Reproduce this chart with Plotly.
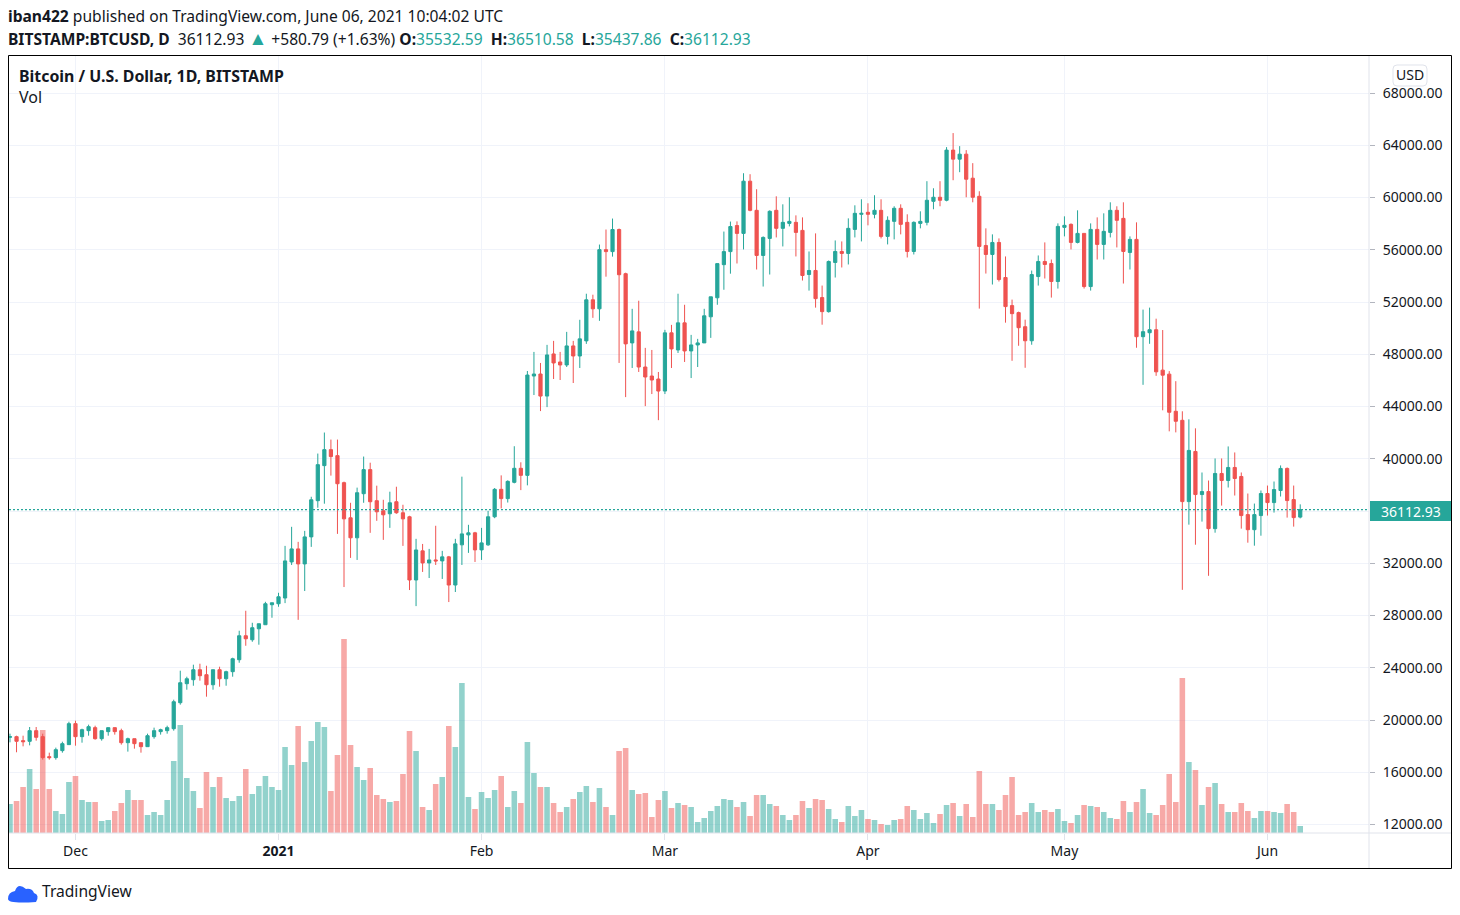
import pandas as pd
import plotly.graph_objects as go

START_DATE = "2020-11-21"

opens = [18675, 18725, 18420, 18370, 19185, 18725, 17195, 17120, 17655, 18115,
         19720, 18725, 19185, 19415, 18570, 19110, 19415, 19185, 18265, 18570,
         18265, 17960, 18725, 19110, 19185, 19335, 21325, 22780, 23085, 23850,
         23470, 22700, 23850, 23160, 23700, 24615, 26450, 26145, 26985, 27295,
         28825, 28900, 29340, 32100, 33100, 31950, 34020, 36790, 39475, 40700,
         40240, 38170, 35480, 33950, 37325, 39170, 36790, 36020, 35790, 36710,
         35865, 35560, 30720, 32950, 32025, 32255, 32180, 32490, 30335, 33410,
         34175, 34330, 33025, 33410, 35560, 37660, 36950, 38195, 39270, 38730,
         46335, 46490, 44800, 48025, 47410, 47180, 48640, 47870, 49025, 52170,
         51480, 56010, 55860, 57550, 54170, 48870, 49715, 47025, 46335, 46105,
         45185, 49640, 48330, 50405, 48255, 48715, 48870, 50870, 52325, 54860,
         55860, 57855, 57255, 61250, 59020, 55565, 56870, 59020, 57640, 58020,
         58100, 57485, 54105, 54415, 52340, 51265, 55030, 55870, 55720, 57560,
         58715, 58870, 58715, 59020, 57025, 58175, 59175, 58100, 55870, 58020,
         58100, 59710, 60020, 59790, 63630, 62940, 63320, 61480, 60095, 56330,
         55640, 56560, 53875, 51725, 51190, 50110, 49035, 53950, 55105, 54950,
         53570, 57715, 57945, 56565, 57255, 53185, 57560, 56410, 57330, 59020,
         58405, 55795, 56795, 49345, 49650, 49880, 46785, 46480, 43635, 42945,
         36720, 40560, 37260, 37490, 34650, 38875, 38335, 39335, 38645, 35725,
         34570, 35650, 37340, 36645, 37570, 39260, 36875, 35532.59]

highs = [18955, 18800, 18800, 19465, 19465, 18955, 17500, 17885, 18340, 19870,
         19950, 19335, 19645, 19565, 19185, 19415, 19415, 19335, 18650, 18570,
         18265, 18955, 19415, 19335, 19565, 21555, 23775, 23315, 24235, 24310,
         24155, 23850, 24080, 23775, 24770, 26835, 28365, 27445, 27370, 29050,
         28975, 29740, 33330, 34790, 33640, 34480, 37090, 40400, 42010, 41470,
         41470, 38250, 36630, 37790, 40170, 39700, 37940, 36860, 37480, 37860,
         36480, 35635, 33870, 33480, 33100, 34870, 32950, 32560, 33870, 38630,
         34945, 34405, 34710, 36020, 37760, 38730, 38350, 40960, 39730, 46720,
         48180, 47335, 48720, 49025, 48180, 49715, 49025, 50640, 52635, 52560,
         56400, 57550, 58390, 57625, 54245, 51480, 52100, 48490, 48330, 46645,
         49870, 50250, 52635, 51790, 49485, 49180, 51480, 52400, 54940, 57395,
         58160, 58175, 61860, 61785, 60635, 57025, 59020, 60095, 59480, 60020,
         58635, 58480, 55870, 57255, 53260, 55180, 56715, 56640, 58405, 59405,
         59865, 59560, 60175, 59865, 58560, 59330, 59480, 58715, 58175, 58945,
         61250, 60710, 61250, 63860, 64935, 63935, 63630, 62630, 60480, 57640,
         57180, 56870, 55490, 52185, 51265, 50650, 54410, 55565, 56565, 55255,
         58020, 58560, 58020, 59020, 57255, 58020, 58480, 58790, 59635, 59330,
         59635, 57025, 58100, 51420, 51570, 50725, 49855, 46710, 45940, 43635,
         43020, 42330, 38950, 38335, 40025, 40025, 40945, 40485, 38950, 37340,
         36570, 37570, 37950, 38260, 39490, 39335, 37950, 36510.58]

lows = [18290, 17530, 17985, 18060, 18420, 16965, 16965, 16965, 17500, 18115,
        18035, 18265, 18800, 18495, 18420, 18800, 18880, 18115, 17580, 17805,
        17500, 17960, 18570, 18880, 18955, 19185, 21175, 22320, 22625, 23010,
        21785, 22320, 22550, 22625, 23315, 24385, 25685, 25990, 25765, 27295,
        27830, 28670, 28950, 31870, 27670, 29875, 33255, 36250, 36560, 38710,
        34250, 30180, 32410, 32255, 36630, 34330, 35250, 33790, 34710, 35790,
        33330, 29950, 28720, 31335, 30870, 31870, 30800, 29030, 29800, 31870,
        32795, 32100, 32255, 33330, 35450, 36200, 36650, 38120, 37600, 37965,
        44880, 43650, 43955, 46105, 46030, 47025, 45800, 46950, 48795, 50790,
        50560, 53940, 55475, 47335, 44720, 46950, 46645, 44030, 44955, 42955,
        44955, 46950, 48100, 47410, 46180, 47025, 48870, 49255, 51790, 52940,
        54170, 54950, 56025, 58945, 54490, 53185, 54105, 56945, 56255, 57790,
        55490, 53645, 52875, 51570, 50265, 51190, 53875, 54645, 54875, 56945,
        56640, 57870, 58405, 56870, 56410, 56795, 57180, 55410, 55640, 57640,
        57870, 59100, 59330, 59710, 61325, 61940, 60020, 59635, 51495, 54180,
        53340, 53570, 50420, 47500, 48650, 46965, 48730, 53260, 53800, 52340,
        53030, 57025, 56025, 56490, 53030, 52875, 55255, 55255, 56945, 56180,
        53415, 54490, 48500, 45660, 48800, 46350, 43710, 42100, 42020, 29965,
        34955, 33420, 35190, 31040, 34340, 36415, 37800, 37185, 34650, 33575,
        33345, 34110, 35650, 35880, 37110, 35495, 34805, 35437.86]

closes = [18725, 18370, 18340, 19185, 18675, 17120, 17120, 17730, 18190, 19720,
          18725, 19260, 19490, 18570, 19185, 19415, 19110, 18265, 18570, 18190,
          17960, 18800, 19185, 19260, 19415, 21400, 22855, 23160, 23850, 23390,
          22700, 23850, 23160, 23700, 24690, 26450, 26220, 27065, 27370, 28900,
          28975, 29435, 32180, 33100, 31950, 34020, 36860, 39550, 40700, 40170,
          38090, 35400, 33950, 37400, 39170, 36710, 35940, 35710, 36630, 35865,
          35400, 30720, 33020, 32025, 32255, 32180, 32490, 30335, 33485, 34250,
          34330, 33025, 33560, 35560, 37660, 36950, 38270, 39270, 38730, 46410,
          46490, 44800, 47950, 47335, 47180, 48640, 47870, 49180, 52170, 51480,
          56010, 55860, 57550, 54090, 48795, 49790, 47025, 46260, 46030, 45185,
          49640, 48410, 50405, 48255, 48715, 48870, 50945, 52400, 54940, 55860,
          57780, 57255, 61250, 59020, 55565, 56945, 58945, 57640, 58100, 58175,
          57330, 54030, 54415, 52260, 51265, 55105, 55870, 55720, 57640, 58790,
          58790, 58715, 59020, 57025, 58255, 59175, 57945, 55870, 58100, 58175,
          59790, 60020, 59790, 63630, 62940, 63320, 61400, 60020, 56255, 55640,
          56560, 53720, 51650, 51110, 50035, 49035, 54105, 55105, 54875, 53570,
          57790, 57870, 56565, 57255, 53185, 57560, 56410, 57410, 59020, 58255,
          55870, 56795, 49345, 49730, 49880, 46655, 46400, 43560, 42870, 36720,
          40640, 37260, 37490, 34650, 38875, 38335, 39335, 38490, 35650, 34570,
          35725, 37340, 36645, 37645, 39260, 36800, 35495, 36112.93]

volumes = [8700, 9600, 13800, 19200, 13200, 30900, 13200, 6600, 5700, 15300,
           17100, 9900, 9300, 9300, 3600, 3900, 6600, 9000, 12900, 9900,
           9900, 5400, 6300, 5400, 9900, 21600, 32400, 16500, 12600, 7500,
           18300, 13800, 16800, 10500, 9600, 11100, 19200, 11700, 14100, 17100,
           13800, 12900, 25800, 20400, 32100, 21300, 27600, 33300, 31800, 12600,
           23400, 58200, 26400, 19800, 15900, 19500, 11400, 10200, 9300, 9600,
           17700, 30600, 24600, 7800, 6900, 14700, 16800, 32100, 25800, 45000,
           10800, 7200, 12300, 10500, 12900, 17100, 7800, 12600, 9000, 27300,
           18000, 13800, 13800, 9000, 6300, 7800, 10200, 12300, 14100, 9300,
           13500, 7800, 5400, 24600, 25500, 12900, 11700, 12000, 4800, 9900,
           12600, 7500, 9000, 8400, 7800, 3300, 4500, 6600, 8100, 10200,
           9900, 7800, 9300, 5100, 11400, 11400, 8700, 8100, 5400, 3900,
           5400, 9600, 7500, 10200, 9900, 7200, 4200, 3300, 8100, 5100,
           6900, 4200, 3900, 2700, 2400, 3900, 4200, 8100, 6900, 4200,
           6000, 3000, 5700, 8400, 9000, 5100, 8700, 4800, 18600, 8700,
           8700, 6900, 11400, 16800, 5400, 6300, 9000, 6300, 6900, 6300,
           7200, 3600, 3000, 5400, 8400, 8100, 7800, 6300, 4500, 4200,
           9600, 6300, 9300, 13200, 6000, 5400, 8400, 17700, 9300, 46500,
           21300, 18900, 8400, 13800, 15000, 8700, 6300, 6300, 9000, 6600,
           4500, 6600, 6600, 6300, 6000, 8700, 6300, 2100]

month_ticks = ["2020-12-01", "2021-01-01", "2021-02-01", "2021-03-01",
               "2021-04-01", "2021-05-01", "2021-06-01"]
month_labels = ["Dec", "<b>2021</b>", "Feb", "Mar", "Apr", "May", "Jun"]
price_ticks = list(range(12000, 68001, 4000))
# the 36000 label sits behind the last price tag
price_labels = ["" if t == 36000 else "%.2f" % t for t in price_ticks]

UP = "#26a69a"
DOWN = "#ef5350"
TEXT = "#131722"
GRID = "#f0f3fa"
FONT = "Noto Sans"


# plot area on the page, used for the furniture around the chart
def px(x):
    return (x - 9) / 1360


def py(y):
    return (833 - y) / 777


def label(x, y, text, size=14, color=TEXT, anchor="left"):
    fig.add_annotation(x=px(x), y=py(y), xref="paper", yref="paper", text=text,
                       showarrow=False, xanchor=anchor, yanchor="middle",
                       align="left", borderpad=0,
                       font=dict(family=FONT, size=size, color=color))


def page_line(x0, y0, x1, y1, color, width=1):
    fig.add_shape(type="line", xref="paper", yref="paper", x0=px(x0), y0=py(y0),
                  x1=px(x1), y1=py(y1), line=dict(color=color, width=width))


dates = pd.date_range(START_DATE, periods=len(closes))
vol_colors = ["rgba(38,166,154,0.5)" if c >= o else "rgba(239,83,80,0.5)"
              for o, c in zip(opens, closes)]

fig = go.Figure()

fig.add_trace(go.Bar(x=dates, y=volumes, marker=dict(color=vol_colors, line=dict(width=0)),
                     yaxis="y", name="Vol"))

fig.add_trace(go.Candlestick(
    x=dates, open=opens, high=highs, low=lows, close=closes, yaxis="y2",
    whiskerwidth=0, name="BTCUSD",
    increasing=dict(line=dict(color=UP, width=1), fillcolor=UP),
    decreasing=dict(line=dict(color=DOWN, width=1), fillcolor=DOWN)))

fig.update_layout(
    width=1460, height=915, showlegend=False, paper_bgcolor="white", plot_bgcolor="white",
    margin=dict(l=9, r=91, t=56, b=82, autoexpand=False),
    bargap=0.15, boxgap=0.3,
    font=dict(family=FONT, size=14, color=TEXT),
    xaxis=dict(type="date", range=["2020-11-20 20:24", "2021-06-16 12:00"],
               rangeslider=dict(visible=False), tickmode="array",
               tickvals=month_ticks, ticktext=month_labels,
               showgrid=True, gridcolor=GRID, gridwidth=1,
               ticks="outside", ticklen=6, tickcolor="#e0e3eb",
               ticklabelstandoff=-1, tickfont=dict(size=14, color=TEXT),
               showline=False, zeroline=False),
    yaxis=dict(range=[0, 233100], visible=False, showgrid=False),
    yaxis2=dict(overlaying="y", side="right", range=[11350, 70835],
                tickmode="array", tickvals=price_ticks, ticktext=price_labels,
                showgrid=True, gridcolor=GRID, gridwidth=1,
                ticks="outside", ticklen=5, tickcolor="#b2b5be",
                ticklabelstandoff=5, tickfont=dict(size=14, color=TEXT),
                showline=False, zeroline=False),
)

# last price line and tag
fig.add_shape(type="line", xref="paper", yref="y2", x0=0, x1=1, y0=closes[-1], y1=closes[-1],
              line=dict(color=UP, width=1.2, dash="2px,2px"))
fig.add_shape(type="rect", xref="paper", yref="paper", x0=px(1370), x1=px(1451), y0=py(501),
              y1=py(521), fillcolor=UP, line=dict(width=0))
label(1411, 511, "%.2f" % closes[-1], color="white", anchor="center")

# frame and axis separators
page_line(9, 833, 1451, 833, "#e0e3eb")
page_line(1369, 56, 1369, 868, "#e0e3eb")
fig.add_shape(type="rect", xref="paper", yref="paper", x0=px(8.5), x1=px(1451.5), y0=py(868.5),
              y1=py(55.5), line=dict(color="black", width=1))

# USD badge
fig.add_shape(type="path", xref="paper", yref="paper", line=dict(color="#e0e3eb", width=1),
              fillcolor="white",
              path="M %f,%f L %f,%f Q %f,%f %f,%f L %f,%f Q %f,%f %f,%f L %f,%f Q %f,%f %f,%f L %f,%f Q %f,%f %f,%f Z" % (
                  px(1397), py(65), px(1423), py(65), px(1427), py(65), px(1427), py(69),
                  px(1427), py(82), px(1427), py(86), px(1423), py(86),
                  px(1397), py(86), px(1393), py(86), px(1393), py(82),
                  px(1393), py(69), px(1393), py(65), px(1397), py(65)))
label(1410, 75, "USD", anchor="center")

# header
label(7, 16, "<b>iban422</b> published on TradingView.com, June 06, 2021 10:04:02 UTC", size=15.6)
teal = "<span style='color:%s'>%%s</span>" % UP
triangle = "<span style='color:%s;font-size:19px'>▲</span>" % UP
label(7, 38, "<b>BITSTAMP:BTCUSD, D</b>&nbsp; %.2f %s %s <b>O:</b>%s&nbsp; <b>H:</b>%s&nbsp; <b>L:</b>%s&nbsp; <b>C:</b>%s" % (
    closes[-1], triangle, "+580.79 (+1.63%)", teal % "35532.59", teal % "36510.58",
    teal % "35437.86", teal % "36112.93"), size=15.6)
label(18, 76, "<b>Bitcoin / U.S. Dollar, 1D, BITSTAMP</b>", size=15.9)
label(18, 97, "Vol", size=16)

# logo
fig.add_shape(type="path", xref="paper", yref="paper", fillcolor="#2962ff", line=dict(width=0),
              path="M %f,%f Q %f,%f %f,%f Q %f,%f %f,%f Q %f,%f %f,%f Q %f,%f %f,%f Q %f,%f %f,%f Z" % (
                  px(8), py(899), px(8), py(892), px(15), py(891),
                  px(18), py(882), px(26), py(889),
                  px(32), py(888), px(34), py(893),
                  px(40), py(895), px(36), py(902),
                  px(8), py(904), px(8), py(899)))
label(41, 891, "TradingView", size=15.6)

fig.write_html("out.html", config={"displayModeBar": False},
               post_script="document.body.style.margin='0';")
